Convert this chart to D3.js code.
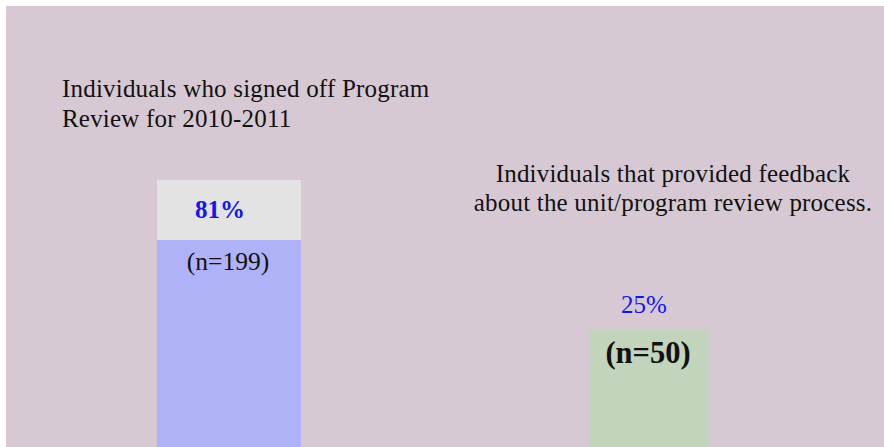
<!DOCTYPE html>
<html>
<head>
<meta charset="utf-8">
<script src="https://cdnjs.cloudflare.com/ajax/libs/d3/7.8.5/d3.min.js"></script>
<style>
body{margin:0;background:#fff;}
svg{display:block;}
</style>
</head>
<body>
<div></div>
<script>
var categories = ["signed", "feedback"];
var percents = [81, 25];
var counts = [199, 50];
var titles = [
  ["Individuals who signed off Program", "Review for 2010-2011"],
  ["Individuals that provided feedback", "about the unit/program review process."]
];

var W = 884, H = 447;
var svg = d3.select("div")
.append("svg")
.attr("width", W)
.attr("height", H)

svg.append("rect")
.attr("x", 6).attr("y", 6)
.attr("width", W - 6).attr("height", H - 6)
.style("fill", "#d7c9d3")

var x = d3.scalePoint()
.domain(categories)
.range([229, 649])

var barW = [144, 120];

// each panel has its own scale
var y1 = d3.scaleLinear().domain([0, 100]).range([496, 180]);
var y2 = d3.scaleLinear().domain([0, 100]).range([496, -168]);

var serif = "'Liberation Serif', 'DejaVu Serif', serif";

// panel 1 : stacked bar
var c1 = x(categories[0]);
svg.append("rect")
.attr("x", c1 - barW[0] / 2)
.attr("y", y1(100))
.attr("width", barW[0])
.attr("height", y1(percents[0]) - y1(100))
.style("fill", "#e4e3e3")

svg.append("rect")
.attr("x", c1 - barW[0] / 2)
.attr("y", y1(percents[0]))
.attr("width", barW[0])
.attr("height", y1(0) - y1(percents[0]))
.style("fill", "#afb2f7")

svg.append("text")
.attr("x", c1 - 9)
.attr("y", y1(percents[0]) - 22)
.attr("text-anchor", "middle")
.style("font-family", serif)
.style("font-weight", "bold")
.style("font-size", "25px")
.style("fill", "#1515ee")
.text(percents[0] + "%")

svg.append("text")
.attr("x", c1 - 1)
.attr("y", y1(percents[0]) + 30)
.attr("text-anchor", "middle")
.style("font-family", serif)
.style("font-size", "25.5px")
.style("fill", "#111")
.text("(n=" + counts[0] + ")")

// panel 2 : single bar
var c2 = x(categories[1]);
svg.append("rect")
.attr("x", c2 - barW[1] / 2)
.attr("y", y2(percents[1]))
.attr("width", barW[1])
.attr("height", y2(0) - y2(percents[1]))
.style("fill", "#c2d4bc")

svg.append("text")
.attr("x", c2 - 5)
.attr("y", y2(percents[1]) - 17)
.attr("text-anchor", "middle")
.style("font-family", serif)
.style("font-size", "25px")
.style("fill", "#1515ee")
.text(percents[1] + "%")

svg.append("text")
.attr("x", c2 - 1)
.attr("y", y2(percents[1]) + 33)
.attr("text-anchor", "middle")
.style("font-family", serif)
.style("font-weight", "bold")
.style("font-size", "30.5px")
.style("fill", "#111")
.text("(n=" + counts[1] + ")")

// titles
var t1 = svg.append("text")
.attr("x", 62).attr("y", 97)
.style("font-family", serif)
.style("font-size", "25px")
.style("letter-spacing", "0.2px")
.style("fill", "#111")
t1.selectAll("tspan").data(titles[0]).enter().append("tspan")
.attr("x", 62)
.attr("dy", function(d, i){ return i ? 30 : 0; })
.text(function(d){ return d; })

var t2 = svg.append("text")
.attr("x", 673).attr("y", 182)
.attr("text-anchor", "middle")
.style("font-family", serif)
.style("font-size", "25px")
.style("letter-spacing", "0.2px")
.style("fill", "#111")
t2.selectAll("tspan").data(titles[1]).enter().append("tspan")
.attr("x", 673)
.attr("dy", function(d, i){ return i ? 29 : 0; })
.text(function(d){ return d; })
</script>
</body>
</html>
